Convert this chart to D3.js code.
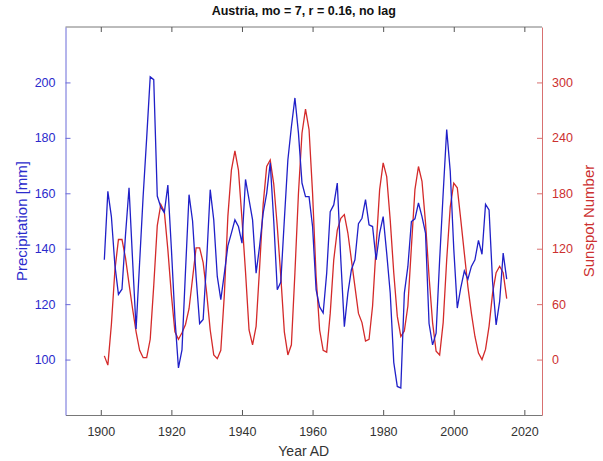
<!DOCTYPE html>
<html><head><meta charset="utf-8">
<script src="https://cdn.jsdelivr.net/npm/d3@7"></script>
<style>body{margin:0;background:#fff}svg{display:block}text{font-family:"Liberation Sans",Arial,sans-serif}</style>
</head><body><svg id="c" width="603" height="461"></svg>
<script>
const startYear = 1901;
const precipitation = [136,160.7,151.6,134,123.5,125.4,145,162,136,111,135,159,180,202,201,159,155,153,163,140,115,97,103.5,132,159.5,150,130,113,114.5,136,161.3,150.4,130,121.6,131,141,145.6,150.4,148,142,165,157.7,150.4,131.2,141,152.8,160,171,150,125.2,128,150.4,172,184,194.4,181.7,163.7,158.8,158.8,148,125.2,119,116.8,131.2,153.4,155.8,163.7,136,111.9,124,132.4,136,149,151,157.7,148.6,148,136,145.6,151.6,138.4,124,99,90.3,89.7,124,133.6,149.8,150.8,156.5,151.6,145.6,113,105.3,109.5,136,160,183,168,140,118.6,126,132,129,133.6,136,143,138,156,154,128,112.5,121,138.4,129];
const sunspots = [4,-6,38,97,130,130,110,82,55,30,10,2,2,22,80,145,168,160,119,70,30,22,29,38,55,88,121,121,105,72,32,5,1,10,70,155,205,226,205,152,95,32,16,36,100,168,209,216,190,144,90,30,5,16,94,180,245,271,249,180,90,32,10,8,50,108,140,153,157,137,108,79,50,40,20,22,58,122,184,213,198,151,94,47,25,31,58,122,184,209,193,148,90,40,9,5,40,108,165,191,186,151,115,79,50,25,7,0,11,36,72,94,101,94,66];
const xTicks = [1900,1920,1940,1960,1980,2000,2020];
const leftTicks = [100,120,140,160,180,200];
const rightTicks = [0,60,120,180,240,300];
const years = precipitation.map((d,i)=>startYear+i);

const blue = "#2020c8", red = "#d42a2a", blueAx = "#2b2bcc", redAx = "#cc3030";
const L=65.5, R=542, T=27, B=415;
const svg = d3.select("#c");
const x = d3.scaleLinear().domain([1890,2025]).range([L,R]);
const yL = d3.scaleLinear().domain([80,220]).range([B,T]);
const yR = d3.scaleLinear().domain([-60,360]).range([B,T]);

// top border
svg.append("line").attr("x1",L).attr("x2",R).attr("y1",T).attr("y2",T).attr("stroke","#555").attr("stroke-width",0.8);

// bottom axis
const gx = svg.append("g").attr("transform",`translate(0,${B})`)
  .call(d3.axisBottom(x).tickValues(xTicks).tickFormat(d3.format("d")).tickSizeInner(-5).tickSizeOuter(0).tickPadding(12));
gx.select(".domain").attr("stroke","#555").attr("stroke-width",0.8);
gx.selectAll(".tick line").attr("stroke","#555");
gx.selectAll("text").attr("fill","#333").attr("font-size","12.5px");
// top ticks
svg.append("g").attr("transform",`translate(0,${T})`)
  .call(d3.axisTop(x).tickValues(xTicks).tickFormat("").tickSizeInner(-5).tickSizeOuter(0))
  .call(g=>{g.select(".domain").remove(); g.selectAll(".tick line").attr("stroke","#555");});

// left axis
const gl = svg.append("g").attr("transform",`translate(${L},0)`)
  .call(d3.axisLeft(yL).tickValues(leftTicks).tickSizeInner(-5).tickSizeOuter(0).tickPadding(10));
gl.select(".domain").attr("stroke","#6a6ad8").attr("stroke-width",1);
gl.selectAll(".tick line").attr("stroke","#6a6ad8");
gl.selectAll("text").attr("fill",blueAx).attr("font-size","12.5px");

// right axis
const gr = svg.append("g").attr("transform",`translate(${R},0)`)
  .call(d3.axisRight(yR).tickValues(rightTicks).tickSizeInner(-5).tickSizeOuter(0).tickPadding(10));
gr.select(".domain").attr("stroke","#d87070").attr("stroke-width",1);
gr.selectAll(".tick line").attr("stroke","#d87070");
gr.selectAll("text").attr("fill",redAx).attr("font-size","12.5px");

// lines
svg.append("path").datum(sunspots)
  .attr("fill","none").attr("stroke",red).attr("stroke-width",1.3)
  .attr("d",d3.line().x((d,i)=>x(years[i])).y(d=>yR(d)));
svg.append("path").datum(precipitation)
  .attr("fill","none").attr("stroke",blue).attr("stroke-width",1.3)
  .attr("d",d3.line().x((d,i)=>x(years[i])).y(d=>yL(d)));

// labels
svg.append("text").attr("x",(L+R)/2).attr("y",15).attr("text-anchor","middle")
  .attr("font-weight","bold").attr("font-size","12.5px").attr("fill","#111").text("Austria, mo = 7, r = 0.16, no lag");
svg.append("text").attr("x",(L+R)/2).attr("y",456).attr("text-anchor","middle")
  .attr("font-size","14px").attr("fill","#333").text("Year AD");
svg.append("text").attr("transform",`translate(27,${(T+B)/2}) rotate(-90)`).attr("text-anchor","middle")
  .attr("font-size","15px").attr("fill",blueAx).text("Precipitation [mm]");
svg.append("text").attr("transform",`translate(594,${(T+B)/2}) rotate(-90)`).attr("text-anchor","middle")
  .attr("font-size","15px").attr("fill",redAx).text("Sunspot Number");
</script></body></html>
